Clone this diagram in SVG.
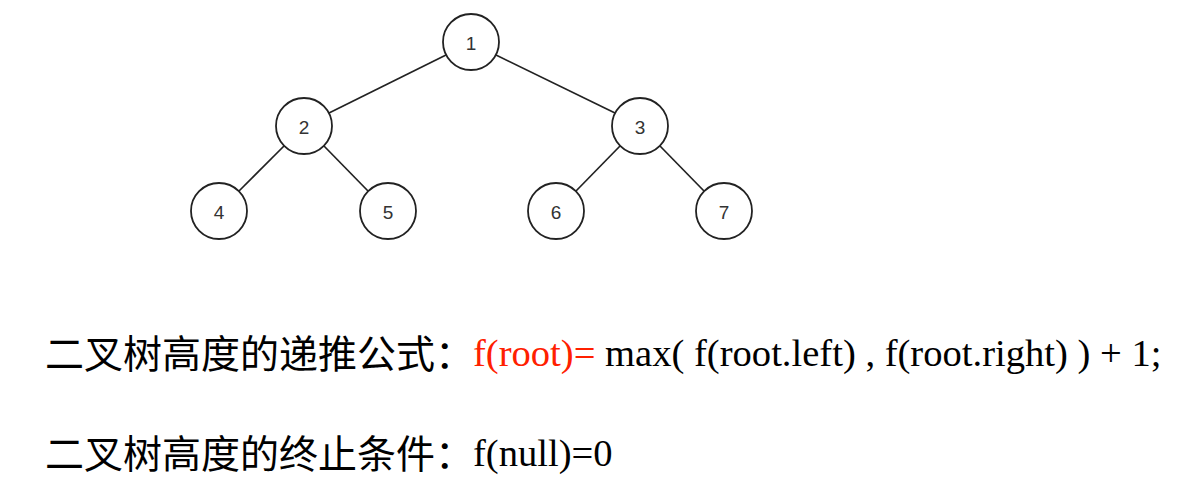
<svg xmlns="http://www.w3.org/2000/svg" width="1188" height="494" viewBox="0 0 1188 494">
<style>
.n circle{fill:#fff;stroke:#222;stroke-width:1.8}
.n text{font-family:"Liberation Sans",Arial,sans-serif;font-size:19px;fill:#333;text-anchor:middle;dominant-baseline:central}
.e line{stroke:#222;stroke-width:1.7}
.cjk{font-family:"Noto Sans CJK SC",sans-serif;font-size:39px;fill:#000}
.lat{font-family:"Liberation Serif","Times New Roman",serif;font-size:38.6px;fill:#000}
</style>
<rect width="1188" height="494" fill="#fff"/>
<g id="edges" class="e">
<line x1="446" y1="55" x2="329" y2="113"/>
<line x1="496" y1="55" x2="615" y2="113"/>
<line x1="284" y1="146" x2="239" y2="191"/>
<line x1="324" y1="146" x2="368" y2="191"/>
<line x1="620" y1="146" x2="576" y2="191"/>
<line x1="660" y1="146" x2="704" y2="191"/>
</g>
<g id="n1" class="n"><circle cx="471" cy="42" r="28"/><text x="471" y="43">1</text></g>
<g id="n2" class="n"><circle cx="304" cy="126" r="28"/><text x="304" y="127">2</text></g>
<g id="n3" class="n"><circle cx="640" cy="126" r="28"/><text x="640" y="127">3</text></g>
<g id="n4" class="n"><circle cx="219" cy="211" r="28"/><text x="219" y="212">4</text></g>
<g id="n5" class="n"><circle cx="388" cy="211" r="28"/><text x="388" y="212">5</text></g>
<g id="n6" class="n"><circle cx="556" cy="211" r="28"/><text x="556" y="212">6</text></g>
<g id="n7" class="n"><circle cx="724" cy="211" r="28"/><text x="724" y="212">7</text></g>
<text class="cjk" x="45" y="368">二叉树高度的递推公式：</text>
<text class="lat" x="473" y="366"><tspan fill="#ff2000">f(root)=</tspan> max( f(root.left) , f(root.right) ) + 1;</text>
<text class="cjk" x="45" y="468">二叉树高度的终止条件：</text>
<text class="lat" x="473" y="466">f(null)=0</text>
</svg>
